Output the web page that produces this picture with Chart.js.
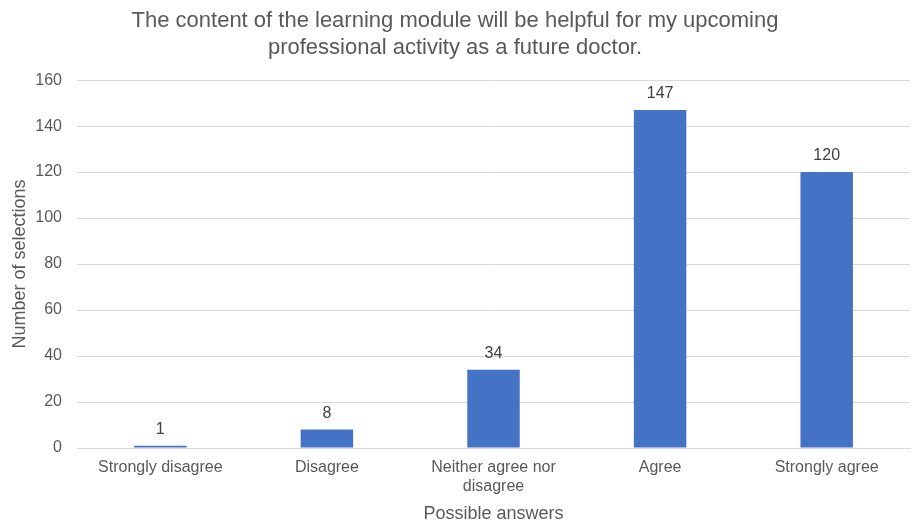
<!DOCTYPE html>
<html>
<head>
<meta charset="utf-8">
<script src="https://cdn.jsdelivr.net/npm/chart.js@4"></script>
<style>
  html, body { margin: 0; padding: 0; background: #fff; }
  #wrap { width: 912px; height: 525px; }
</style>
</head>
<body>
<div id="wrap"><canvas id="myChart" width="912" height="525"></canvas></div>
<script>
const answers = ["Strongly disagree", "Disagree", ["Neither agree nor", "disagree"], "Agree", "Strongly agree"]
const selections = [1, 8, 34, 147, 120]
const yTicks = [0, 20, 40, 60, 80, 100, 120, 140, 160]

const fontFamily = "'Liberation Sans', Arial, sans-serif"
const textGrey = "#595959"

// numbers above each bar
const barLabels = {
    id: "barLabels",
    afterDatasetsDraw(chart) {
        const ctx = chart.ctx
        ctx.save()
        ctx.font = "16px " + fontFamily
        ctx.fillStyle = "#404040"
        ctx.textAlign = "center"
        ctx.textBaseline = "bottom"
        chart.getDatasetMeta(0).data.forEach((bar, i) => {
            ctx.fillText(selections[i], bar.x, bar.y - 8)
        })
        ctx.restore()
    }
}

new Chart("myChart", {
    type: "bar",
    data: {
        labels: answers,
        datasets: [{
            data: selections,
            backgroundColor: "#4472C4",
            barPercentage: 0.315,
            categoryPercentage: 1
        }]
    },
    options: {
        responsive: false,
        animation: false,
        layout: {padding: {top: 0, right: 2, bottom: 0, left: 0}},
        plugins: {
            legend: {display: false},
            tooltip: {enabled: false},
            title: {
                display: true,
                text: ["The content of the learning module will be helpful for my upcoming", "professional activity as a future doctor."],
                color: textGrey,
                font: {family: fontFamily, size: 22, weight: "normal", lineHeight: 1.23},
                padding: {top: 7, bottom: 19}
            }
        },
        scales: {
            x: {
                grid: {display: false, drawTicks: false},
                border: {color: "#d9d9d9"},
                ticks: {
                    color: textGrey,
                    font: {family: fontFamily, size: 16, lineHeight: 1.2},
                    padding: 10,
                    maxRotation: 0,
                    autoSkip: false
                },
                title: {
                    display: true,
                    text: "Possible answers",
                    color: textGrey,
                    font: {family: fontFamily, size: 18},
                    padding: {top: 4, bottom: 0}
                },
                afterFit(scale) { scale.height = 77 }
            },
            y: {
                min: 0,
                max: 160,
                afterBuildTicks(scale) { scale.ticks = yTicks.map(v => ({value: v})) },
                grid: {color: "#d9d9d9", drawTicks: false},
                border: {display: false},
                ticks: {
                    color: textGrey,
                    font: {family: fontFamily, size: 16},
                    padding: 15
                },
                title: {
                    display: true,
                    text: "Number of selections",
                    color: textGrey,
                    font: {family: fontFamily, size: 18},
                    padding: {top: 9, bottom: 0}
                },
                afterFit(scale) { scale.width = 77 }
            }
        }
    },
    plugins: [barLabels]
})
</script>
</body>
</html>
